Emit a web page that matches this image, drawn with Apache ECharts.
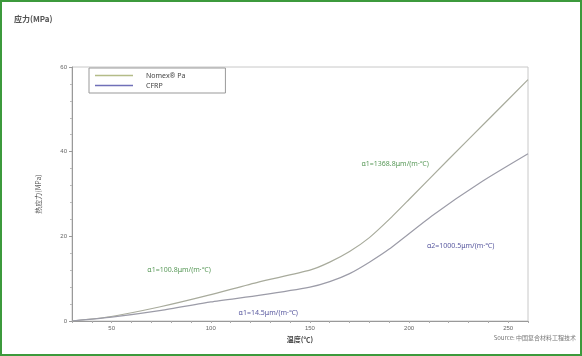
<!DOCTYPE html>
<html><head><meta charset="utf-8">
<script src="https://cdn.jsdelivr.net/npm/echarts@6/dist/echarts.min.js"></script>
<style>html,body{margin:0;padding:0;background:#fff}#c{width:582px;height:356px}</style>
</head><body><div id="c"></div>
<script>
// Temperature (℃) vs thermal stress (MPa)
const upperX = [30, 49, 74, 99, 124, 150, 160, 170, 180, 190, 200, 220, 240, 260];
const upperY = [0, 1.0, 3.3, 6.1, 9.2, 12.0, 13.9, 16.4, 19.7, 24.0, 28.7, 38.2, 47.6, 57.0];
const lowerX = [30, 50, 75, 100, 125, 150, 160, 170, 180, 190, 212, 237, 260];
const lowerY = [0, 0.9, 2.5, 4.5, 6.1, 8.0, 9.3, 11.2, 13.9, 17.0, 25.0, 33.0, 39.5];
const seriesNames = ['Nomex® Pa', 'CFRP'];
const xTicks = [50, 100, 150, 200, 250];
const yTicks = [0, 20, 40, 60];
const notes = [
  {x: 193, y: 37, text: 'α1=1368.8μm/(m·℃)', c: '#5a9a5a'},
  {x: 226, y: 17.7, text: 'α2=1000.5μm/(m·℃)', c: '#5a5aa0'},
  {x: 84, y: 12, text: 'α1=100.8μm/(m·℃)', c: '#5a9a5a'},
  {x: 129, y: 2.0, text: 'α1=14.5μm/(m·℃)', c: '#5a5aa0'}
];

const chart = echarts.init(document.getElementById('c'));
const pair = (xs, ys) => xs.map((v, i) => [v, ys[i]]);
chart.setOption({
  animation: false,
  backgroundColor: '#fff',
  title: {
    text: '应力(MPa)', left: 9, top: 10,
    textStyle: {fontSize: 8, fontWeight: 'bold', color: '#555', fontFamily: 'Noto Sans CJK SC'}
  },
  grid: {left: 72, right: 54, top: 67, bottom: 35, show: true, borderColor: '#c8c8c8', borderWidth: 1},
  legend: {
    orient: 'vertical', left: 89, top: 68,
    itemWidth: 38, itemHeight: 1.5, itemGap: 1,
    padding: [3, 40, 3, 6],
    borderColor: '#999', borderWidth: 1, backgroundColor: '#fff',
    icon: 'rect',
    textStyle: {fontSize: 7, color: '#444', fontFamily: 'Noto Sans', padding: [0, 0, 0, 8], lineHeight: 9},
    data: seriesNames
  },
  xAxis: {
    type: 'value', min: 30, max: 260, interval: 10,
    name: '温度(℃)', nameLocation: 'middle', nameGap: 14,
    nameTextStyle: {fontSize: 7, fontWeight: 'bold', color: '#444', fontFamily: 'Noto Sans CJK SC'},
    axisLine: {lineStyle: {color: '#999'}},
    axisTick: {length: 2, lineStyle: {color: '#aaa'}},
    splitLine: {show: false},
    axisLabel: {
      fontSize: 6, color: '#666', margin: 4,
      formatter: v => xTicks.includes(v) ? String(v) : ''
    }
  },
  yAxis: {
    type: 'value', min: 0, max: 60, interval: 20,
    name: '热应力(MPa)', nameLocation: 'middle', nameGap: 30, nameRotate: 90,
    nameTextStyle: {fontSize: 7, color: '#555', fontFamily: 'Noto Sans CJK SC'},
    axisLine: {show: true, lineStyle: {color: '#999'}},
    axisTick: {show: true, length: 3, lineStyle: {color: '#999'}},
    minorTick: {show: true, splitNumber: 5, length: 2, lineStyle: {color: '#bbb'}},
    splitLine: {show: false},
    axisLabel: {fontSize: 6, color: '#666', margin: 5, formatter: v => yTicks.includes(v) ? String(v) : ''}
  },
  series: [
    {
      name: seriesNames[0], type: 'line', data: pair(upperX, upperY), smooth: 0.2,
      symbol: 'none', color: '#b4bc88', lineStyle: {width: 1.2, color: '#a8ab9c'},
      markPoint: {
        symbol: 'rect', symbolSize: 0,
        data: notes.map(n => ({coord: [n.x, n.y], label: {show: true, formatter: n.text, color: n.c, fontSize: 7, fontFamily: 'Noto Sans'}}))
      }
    },
    {
      name: seriesNames[1], type: 'line', data: pair(lowerX, lowerY), smooth: 0.2,
      symbol: 'none', color: '#7070b8', lineStyle: {width: 1.2, color: '#9c9ca8'}
    }
  ],
  graphic: [
    {type: 'rect', shape: {x: 1, y: 1, width: 580, height: 354}, style: {fill: 'none', stroke: '#3c9a3c', lineWidth: 2}, silent: true},
    {type: 'text', right: 6, top: 335, style: {text: 'Source: 中国复合材料工程技术', fontSize: 6, fill: '#777', fontFamily: 'Noto Sans CJK SC'}}
  ]
});
</script></body></html>
